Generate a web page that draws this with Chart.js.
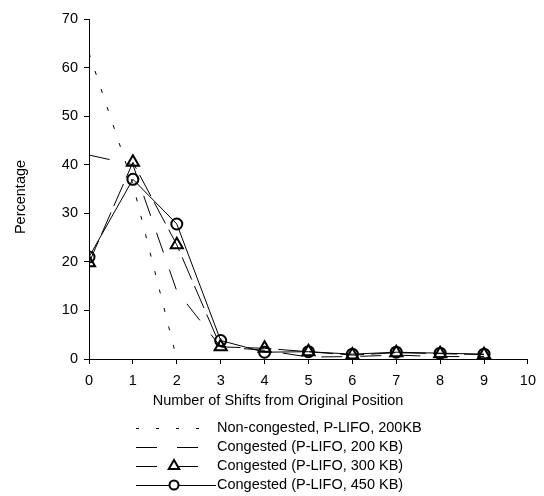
<!DOCTYPE html>
<html>
<head>
<meta charset="utf-8">
<script src="https://cdn.jsdelivr.net/npm/chart.js@4/dist/chart.umd.min.js"></script>
<style>
  html, body { margin: 0; padding: 0; background: #fff; }
  #wrap { width: 544px; height: 496px; }
</style>
</head>
<body>
<div id="wrap"><canvas id="grafica" width="544" height="496"></canvas></div>
<script>
  const shifts = [0, 1, 2, 3, 4, 5, 6, 7, 8, 9];
  const xTicks = [0, 1, 2, 3, 4, 5, 6, 7, 8, 9, 10];
  const yTicks = [0, 10, 20, 30, 40, 50, 60, 70];

  const nonCongested = [63, 36, 0];
  const congested200 = [42, 40, 14, 2.5, 1.8, 0.4, 0.5, 0.8, 0.5, 0.5];
  const congested300 = [19.8, 40.5, 23.5, 2.5, 2.2, 1.5, 0.8, 1.3, 1.1, 0.9];
  const congested450 = [21, 37, 27.8, 3.8, 1.4, 1.5, 1.0, 1.4, 1.2, 1.0];

  const labels = [
    "Non-congested, P-LIFO, 200KB",
    "Congested (P-LIFO, 200 KB)",
    "Congested (P-LIFO, 300 KB)",
    "Congested (P-LIFO, 450 KB)"
  ];

  const xTitle = "Number of Shifts from Original Position";
  const yTitle = "Percentage";

  const toPoints = (vals) => vals.map((v, i) => ({ x: shifts[i], y: v }));

  const FONT = "'Liberation Sans', Arial, sans-serif";
  Chart.defaults.font.family = FONT;
  Chart.defaults.font.size = 14.5;
  Chart.defaults.color = "#000";

  // titulos y leyenda dibujados a mano
  const extras = {
    id: "extras",
    afterDraw(chart) {
      const ctx = chart.ctx;
      ctx.save();
      ctx.fillStyle = "#000";
      ctx.font = "14.5px " + FONT;
      ctx.textBaseline = "middle";
      ctx.textAlign = "center";
      ctx.fillText(xTitle, 278, 401);

      ctx.save();
      ctx.translate(21, 197);
      ctx.rotate(-Math.PI / 2);
      ctx.fillText(yTitle, 0, 0);
      ctx.restore();

      const rows = [428, 447, 466, 485];
      chart.data.datasets.forEach((ds, i) => {
        const y = rows[i];
        ctx.strokeStyle = "#000";
        ctx.lineWidth = 1;
        ctx.setLineDash(i === 0 ? [3, 17] : (i === 1 || i === 2) ? [21, 20] : []);
        ctx.beginPath();
        ctx.moveTo(136, y + 0.5);
        ctx.lineTo(i === 3 ? 216 : 200, y + 0.5);
        ctx.stroke();
        ctx.setLineDash([]);
        ctx.lineWidth = 2;
        if (i === 2) {
          const r = 6;
          ctx.fillStyle = "#fff";
          ctx.beginPath();
          ctx.moveTo(174, y - r);
          ctx.lineTo(174 + r * 0.87, y + r * 0.5);
          ctx.lineTo(174 - r * 0.87, y + r * 0.5);
          ctx.closePath();
          ctx.fill();
          ctx.stroke();
        } else if (i === 3) {
          ctx.fillStyle = "#fff";
          ctx.beginPath();
          ctx.arc(174, y, 4.5, 0, Math.PI * 2);
          ctx.fill();
          ctx.stroke();
        }
        ctx.fillStyle = "#000";
        ctx.textAlign = "left";
        ctx.fillText(labels[i], 217, y);
      });
      ctx.restore();
    }
  };

  const ctx = document.getElementById("grafica").getContext("2d");

  new Chart(ctx, {
    type: "line",
    data: {
      datasets: [
        {
          label: labels[0],
          data: toPoints(nonCongested),
          borderColor: "#000",
          borderWidth: 1,
          borderDash: [4, 15],
          pointRadius: 0,
          tension: 0
        },
        {
          label: labels[1],
          data: toPoints(congested200),
          borderColor: "#000",
          borderWidth: 1,
          borderDash: [21, 18],
          pointRadius: 0,
          tension: 0
        },
        {
          label: labels[2],
          data: toPoints(congested300),
          borderColor: "#000",
          borderWidth: 1,
          borderDash: [24, 7],
          pointStyle: "triangle",
          pointRadius: 7,
          pointBorderWidth: 2,
          pointBorderColor: "#000",
          pointBackgroundColor: "rgba(0,0,0,0)",
          tension: 0
        },
        {
          label: labels[3],
          data: toPoints(congested450),
          borderColor: "#000",
          borderWidth: 1,
          pointStyle: "circle",
          pointRadius: 5.5,
          pointBorderWidth: 2,
          pointBorderColor: "#000",
          pointBackgroundColor: "rgba(0,0,0,0)",
          tension: 0
        }
      ]
    },
    options: {
      responsive: false,
      animation: false,
      layout: { padding: { top: 19, right: 13, left: 0, bottom: 0 } },
      scales: {
        x: {
          type: "linear",
          min: 0,
          max: 10,
          afterFit: (scale) => { scale.height = 137; },
          afterBuildTicks: (scale) => { scale.ticks = xTicks.map(v => ({ value: v })); },
          ticks: { padding: 8, maxRotation: 0, color: "#000" },
          grid: { drawOnChartArea: false, tickLength: 5, color: "#000" },
          border: { color: "#000", width: 1 }
        },
        y: {
          min: 0,
          max: 70,
          afterFit: (scale) => { scale.width = 89; },
          afterBuildTicks: (scale) => { scale.ticks = yTicks.map(v => ({ value: v })); },
          ticks: { padding: 6, color: "#000" },
          grid: { drawOnChartArea: false, tickLength: 5, color: "#000" },
          border: { color: "#000", width: 1 }
        }
      },
      plugins: {
        legend: { display: false },
        tooltip: { enabled: false }
      }
    },
    plugins: [extras]
  });
</script>
</body>
</html>
